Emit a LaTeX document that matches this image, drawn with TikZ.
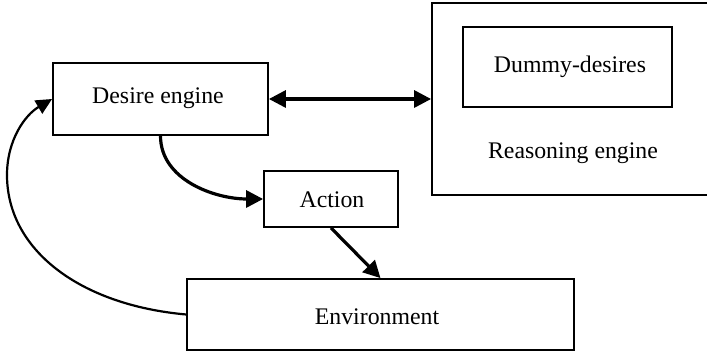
\documentclass[tikz,border=0pt]{standalone}
\usepackage{fontspec}
\setmainfont{Liberation Serif}
\usetikzlibrary{arrows.meta}
\begin{document}
\begin{tikzpicture}[x=1pt,y=-1pt,
  box/.style={draw, line width=1.8pt, inner sep=0pt, minimum width=#1},
  lbl/.style={inner sep=0pt, font=\fontsize{23.8}{28}\selectfont},
  tip/.style={Triangle[length=17pt,width=17pt]},
  conn/.style={line width=3.2pt, -{Triangle[length=17pt,width=17pt]}},
  thinconn/.style={line width=2.2pt, -{Triangle[length=16pt,width=15pt]}}]
\useasboundingbox (0,0) rectangle (707,352);
\fill[white] (0,0) rectangle (707,352);
\node[box=215pt, minimum height=72pt] (desire) at (160.5,99) {};
\node[lbl] at (158,98) {Desire engine};
\node[box=278pt, minimum height=192pt] (reason) at (571,99) {};
\node[box=209pt, minimum height=80pt] (dummy) at (567.5,67) {};
\node[lbl] at (570,67) {Dummy-desires};
\node[lbl] (reasonlbl) at (573,153) {Reasoning engine};
\node[box=134pt, minimum height=56pt] (action) at (331,199) {};
\node[lbl] at (332,200) {Action};
\node[box=387pt, minimum height=71pt] (env) at (380.5,314.5) {};
\node[lbl] at (377,317) {Environment};
\draw[line width=3.2pt, {Triangle[length=17pt,width=17pt]}-{Triangle[length=17pt,width=17pt]}] (desire.east) -- (reason.west);
\draw[conn] (desire.south) .. controls (160.5,180) and (215,199) .. (action.west);
\draw[conn] (action.south) -- (env.north);
\coordinate (lft) at (7,175);
\draw[line width=2.2pt] (env.west) .. controls (80,305) and (7,250) .. (lft);
\draw[thinconn] (lft) .. controls (7,140) and (25,115) .. (desire.west);
\end{tikzpicture}
\end{document}
